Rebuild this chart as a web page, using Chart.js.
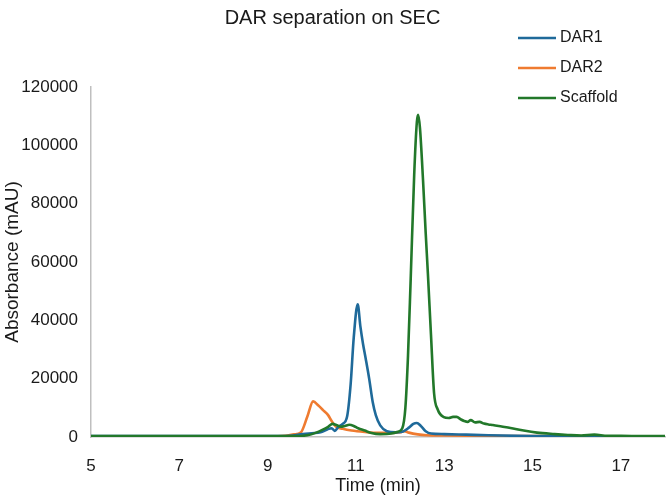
<!DOCTYPE html>
<html>
<head>
<meta charset="utf-8">
<title>DAR separation on SEC</title>
<script src="https://cdn.jsdelivr.net/npm/chart.js@4"></script>
<style>
    body { margin: 0; background: #fff; }
    #chartBox { width: 666px; height: 497px; }
</style>
</head>
<body>
<div id="chartBox"><canvas id="secChart" width="666" height="497"></canvas></div>
<script>
// Series labels and colours
const seriesNames = ['DAR1', 'DAR2', 'Scaffold'];
const seriesColors = ['#1f6a9a', '#ef7b30', '#22782a'];

// DAR1 trace (time in min, absorbance in mAU)
const dar1Time = [5, 6, 7, 8, 9, 9.5, 9.8, 10.0, 10.2, 10.35, 10.45, 10.52, 10.6, 10.7, 10.8, 10.88, 10.95, 11.04, 11.1, 11.16, 11.22, 11.3, 11.38, 11.45, 11.55, 11.7, 11.9, 12.05, 12.2, 12.3, 12.38, 12.47, 12.58, 12.7, 13, 13.5, 14, 15, 16, 17, 18];
const dar1Values = [300, 300, 300, 300, 300, 400, 1000, 1300, 1600, 2600, 3000, 2100, 3400, 4500, 7000, 18000, 34000, 45500, 38000, 32000, 27000, 20000, 12000, 7500, 4000, 2000, 1600, 1800, 3200, 4500, 4800, 3800, 2000, 1200, 1000, 800, 600, 300, 200, 200, 200];

// DAR2 trace
const dar2Time = [5, 7, 9, 9.4, 9.6, 9.75, 9.9, 10.03, 10.15, 10.25, 10.37, 10.45, 10.55, 10.7, 10.9, 11.2, 11.5, 11.8, 12.0, 12.1, 12.2, 12.4, 12.6, 13, 14, 15, 16, 17, 18];
const dar2Values = [200, 200, 200, 400, 900, 1500, 7000, 12200, 10800, 9300, 7500, 5500, 3500, 2800, 2200, 1700, 1400, 1400, 1600, 2000, 1500, 900, 600, 500, 400, 300, 300, 200, 200];

// Scaffold trace
const scaffoldTime = [5, 7, 9, 9.6, 9.9, 10.1, 10.25, 10.37, 10.47, 10.57, 10.66, 10.75, 10.85, 10.95, 11.05, 11.2, 11.35, 11.55, 11.8, 11.95, 12.05, 12.12, 12.18, 12.24, 12.32, 12.38, 12.41, 12.45, 12.52, 12.58, 12.63, 12.7, 12.77, 12.85, 12.99, 13.1, 13.2, 13.28, 13.38, 13.45, 13.53, 13.6, 13.7, 13.8, 13.9, 14.0, 14.1, 14.3, 14.5, 14.8, 15.1, 15.5, 15.8, 16.1, 16.4, 16.7, 17, 17.5, 18];
const scaffoldValues = [300, 300, 300, 300, 600, 1500, 2500, 3500, 4500, 4000, 3500, 3800, 4200, 3800, 3000, 2200, 1400, 1000, 1200, 1800, 3000, 10000, 28000, 54000, 90000, 108000, 110500, 106000, 88000, 70000, 56000, 35000, 15000, 9500, 6800, 6500, 6900, 6900, 6000, 5500, 5200, 5800, 5000, 5200, 4600, 4300, 4100, 3600, 3100, 2200, 1500, 1000, 700, 500, 800, 400, 400, 300, 300];

// Axis ticks
const xTicks = [5, 7, 9, 11, 13, 15, 17];
const yTicks = [0, 20000, 40000, 60000, 80000, 100000, 120000];

const FONT = '"Liberation Sans", Arial, sans-serif';
const TEXT_COLOR = '#1a1a1a';

document.addEventListener('DOMContentLoaded', function() {
    drawChart();
});

function toPoints(times, values) {
    return times.map((t, i) => ({ x: t, y: values[i] }));
}

// Legend drawn inside the plot at the top right, like the original
const cornerLegend = {
    id: 'cornerLegend',
    afterDraw(chart) {
        const ctx = chart.ctx;
        ctx.save();
        ctx.font = '16px ' + FONT;
        ctx.textBaseline = 'middle';
        ctx.textAlign = 'left';
        seriesNames.forEach((name, i) => {
            const y = 38 + i * 30;
            ctx.strokeStyle = seriesColors[i];
            ctx.lineWidth = 2.5;
            ctx.beginPath();
            ctx.moveTo(518, y);
            ctx.lineTo(556, y);
            ctx.stroke();
            ctx.fillStyle = TEXT_COLOR;
            ctx.fillText(name, 560, y);
        });
        ctx.restore();
    }
};

function drawChart() {
    const ctx = document.getElementById('secChart').getContext('2d');
    const traces = [
        toPoints(dar1Time, dar1Values),
        toPoints(dar2Time, dar2Values),
        toPoints(scaffoldTime, scaffoldValues)
    ];
    const drawOrder = [1, 2, 0];

    new Chart(ctx, {
        type: 'line',
        data: {
            datasets: seriesNames.map((name, i) => ({
                label: name,
                data: traces[i],
                borderColor: seriesColors[i],
                backgroundColor: seriesColors[i],
                borderWidth: 2.6,
                pointRadius: 0,
                fill: false,
                cubicInterpolationMode: 'monotone',
                order: drawOrder[i]
            }))
        },
        options: {
            responsive: false,
            animation: false,
            layout: { padding: { left: 0, right: 1, top: 0, bottom: 0 } },
            plugins: {
                legend: { display: false },
                tooltip: { enabled: false },
                title: {
                    display: true,
                    text: 'DAR separation on SEC',
                    color: TEXT_COLOR,
                    font: { family: FONT, size: 20, weight: 'normal' },
                    padding: { top: 6, bottom: 57 }
                }
            },
            scales: {
                x: {
                    type: 'linear',
                    min: 5,
                    max: 18,
                    afterBuildTicks: axis => { axis.ticks = xTicks.map(v => ({ value: v })); },
                    afterFit: axis => { axis.height = 60; },
                    grid: { display: false, drawTicks: false },
                    border: { color: '#bfbfbf', width: 1.5 },
                    ticks: {
                        color: TEXT_COLOR,
                        font: { family: FONT, size: 17 },
                        padding: 19,
                        maxRotation: 0
                    },
                    title: {
                        display: true,
                        text: 'Time (min)',
                        color: TEXT_COLOR,
                        font: { family: FONT, size: 18 },
                        padding: { top: 0, bottom: 0 }
                    }
                },
                y: {
                    min: 0,
                    max: 120000,
                    afterBuildTicks: axis => { axis.ticks = yTicks.map(v => ({ value: v })); },
                    afterFit: axis => { axis.width = 91; },
                    grid: { display: false, drawTicks: false },
                    border: { color: '#bfbfbf', width: 1.5 },
                    ticks: {
                        color: TEXT_COLOR,
                        font: { family: FONT, size: 17 },
                        padding: 13,
                        callback: value => String(value)
                    },
                    title: {
                        display: true,
                        text: 'Absorbance (mAU)',
                        color: TEXT_COLOR,
                        font: { family: FONT, size: 19 },
                        padding: { top: 1, bottom: 0 }
                    }
                }
            }
        },
        plugins: [cornerLegend]
    });
}
</script>
</body>
</html>
